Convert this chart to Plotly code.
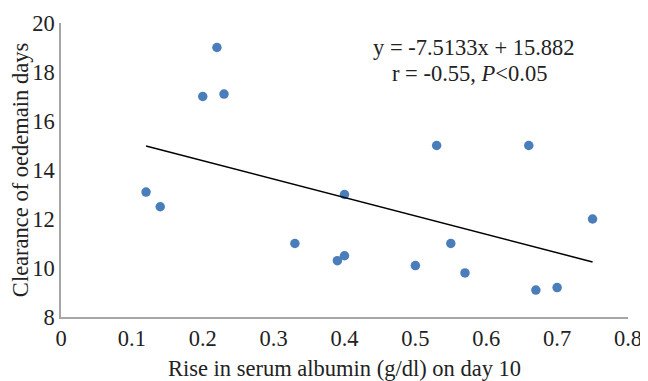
import plotly.graph_objects as go

rise_albumin = [0.12, 0.14, 0.20, 0.22, 0.23, 0.33, 0.39, 0.40, 0.40, 0.50,
                0.53, 0.55, 0.57, 0.66, 0.67, 0.70, 0.75]
clearance_days = [13.1, 12.5, 17.0, 19.0, 17.1, 11.0, 10.3, 10.5, 13.0, 10.1,
                  15.0, 11.0, 9.8, 15.0, 9.1, 9.2, 12.0]
slope = -7.5133
intercept = 15.882
x_ticks = [0, 0.1, 0.2, 0.3, 0.4, 0.5, 0.6, 0.7, 0.8]
y_ticks = [8, 10, 12, 14, 16, 18, 20]

font = "Liberation Serif, Times New Roman, serif"
fs = 22.5
col = "#222"

x_line = [min(rise_albumin), max(rise_albumin)]
y_line = [slope * v + intercept for v in x_line]

fig = go.Figure()
fig.add_trace(go.Scatter(x=rise_albumin, y=clearance_days, mode="markers",
                         marker=dict(color="#4a7ebb", size=9.5), showlegend=False))
fig.add_trace(go.Scatter(x=x_line, y=y_line, mode="lines",
                         line=dict(color="black", width=1.5), showlegend=False))

fig.add_annotation(x=0.583, y=19.0, xref="x", yref="y", showarrow=False,
                   text="y = -7.5133x + 15.882", font=dict(family=font, size=fs, color=col),
                   xanchor="center", yanchor="middle")
fig.add_annotation(x=0.5765, y=17.92, xref="x", yref="y", showarrow=False,
                   text="r = -0.55, <i>P</i><0.05", font=dict(family=font, size=fs, color=col),
                   xanchor="center", yanchor="middle")

fig.update_xaxes(range=[0, 0.8], tickvals=x_ticks, ticktext=[str(t) for t in x_ticks],
                 showgrid=False, zeroline=False, showline=True, linecolor="#a6a6a6", linewidth=1.5,
                 ticks="", automargin=False, tickfont=dict(family=font, size=fs, color=col),
                 title=dict(text="Rise in serum albumin (g/dl) on day 10",
                            font=dict(family=font, size=fs, color=col), standoff=10))
fig.update_yaxes(range=[8, 20], tickvals=y_ticks, showgrid=False, zeroline=False,
                 showline=True, linecolor="#a6a6a6", linewidth=1.5, ticks="", automargin=False,
                 tickfont=dict(family=font, size=fs, color=col),
                 title=dict(text="Clearance of oedemain days",
                            font=dict(family=font, size=fs, color=col), standoff=4))
fig.update_layout(width=640, height=373, margin=dict(l=53, r=20, t=15, b=64),
                  plot_bgcolor="white", paper_bgcolor="white")
fig.write_html("out.html")
